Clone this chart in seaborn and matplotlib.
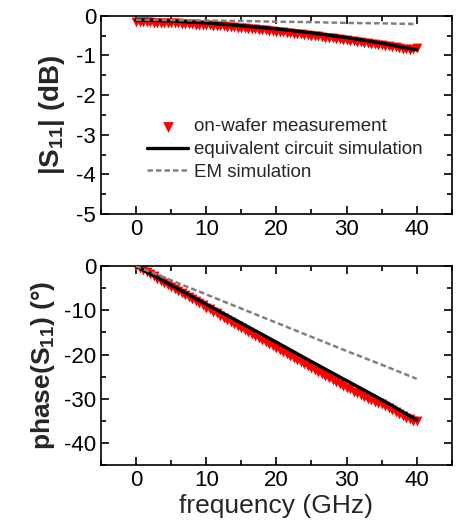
import matplotlib
matplotlib.use("Agg")
import matplotlib.pyplot as plt
from matplotlib.ticker import MultipleLocator
import numpy as np
import pandas as pd
import seaborn as sns

# measurement grid, 0.5 GHz steps
freq_meas = np.arange(0, 40.5, 0.5)
mag_meas = [
    -0.15, -0.15, -0.16, -0.16, -0.16, -0.17, -0.17, -0.17, -0.18, -0.18,
    -0.18, -0.19, -0.19, -0.20, -0.20, -0.21, -0.21, -0.22, -0.22, -0.23,
    -0.24, -0.24, -0.25, -0.26, -0.26, -0.27, -0.28, -0.29, -0.29, -0.30,
    -0.31, -0.32, -0.33, -0.33, -0.34, -0.35, -0.36, -0.37, -0.38, -0.39,
    -0.40, -0.41, -0.42, -0.43, -0.44, -0.45, -0.46, -0.47, -0.48, -0.49,
    -0.50, -0.51, -0.52, -0.53, -0.55, -0.56, -0.57, -0.58, -0.59, -0.60,
    -0.62, -0.63, -0.64, -0.65, -0.66, -0.68, -0.69, -0.70, -0.71, -0.73,
    -0.74, -0.75, -0.77, -0.78, -0.79, -0.81, -0.85, -0.84, -0.86, -0.83,
    -0.80,
]
phase_meas = [
    0.0, -0.4, -0.9, -1.4, -1.8, -2.3, -2.8, -3.3, -3.7, -4.2,
    -4.7, -5.1, -5.6, -6.1, -6.5, -7.0, -7.5, -7.9, -8.4, -8.9,
    -9.4, -9.8, -10.3, -10.7, -11.2, -11.7, -12.1, -12.6, -13.1, -13.5,
    -14.0, -14.5, -14.9, -15.4, -15.8, -16.3, -16.8, -17.2, -17.7, -18.1,
    -18.6, -19.0, -19.5, -19.9, -20.4, -20.8, -21.3, -21.7, -22.2, -22.6,
    -23.1, -23.5, -24.0, -24.4, -24.9, -25.3, -25.7, -26.2, -26.6, -27.1,
    -27.5, -27.9, -28.4, -28.8, -29.2, -29.6, -30.0, -30.4, -30.7, -30.9,
    -31.1, -31.6, -32.2, -32.6, -33.1, -33.5, -33.9, -34.3, -34.7, -35.0,
    -35.1,
]

# simulations, 5 GHz steps
freq_sim = [0, 5, 10, 15, 20, 25, 30, 35, 40]
mag_circuit = [-0.10, -0.13, -0.18, -0.25, -0.33, -0.43, -0.55, -0.69, -0.86]
mag_em = [-0.10, -0.11, -0.12, -0.13, -0.15, -0.16, -0.18, -0.19, -0.21]
phase_circuit = [0.0, -4.3, -8.6, -12.9, -17.2, -21.6, -25.9, -30.2, -34.8]
phase_em = [0.0, -3.2, -6.4, -9.6, -12.8, -16.0, -19.2, -22.3, -25.5]

meas = pd.DataFrame({"f": freq_meas, "mag": mag_meas, "phase": phase_meas})
sim = pd.DataFrame({"f": freq_sim, "mag_c": mag_circuit, "mag_em": mag_em,
                    "ph_c": phase_circuit, "ph_em": phase_em})

sns.set_theme(style="ticks")
plt.rcParams.update({
    "font.family": ["Liberation Sans", "DejaVu Sans"],
    "axes.unicode_minus": False,
    "xtick.direction": "in", "ytick.direction": "in",
    "xtick.top": True, "ytick.right": True,
    "xtick.major.size": 6, "ytick.major.size": 6,
    "xtick.minor.size": 3.5, "ytick.minor.size": 3.5,
    "xtick.major.width": 1.2, "ytick.major.width": 1.2,
    "xtick.minor.width": 1.2, "ytick.minor.width": 1.2,
    "axes.linewidth": 1.2, "axes.edgecolor": "black",
    "xtick.labelsize": 16, "ytick.labelsize": 16,
    "xtick.color": "black", "ytick.color": "black",
    "mathtext.fontset": "custom", "mathtext.rm": "Liberation Sans",
    "mathtext.bf": "Liberation Sans:bold",
})

fig = plt.figure(figsize=(4.61, 5.26), dpi=100)
ax1 = fig.add_axes([0.219, 0.593, 0.761, 0.377])
ax2 = fig.add_axes([0.219, 0.116, 0.761, 0.378])

RED = "#FF0000"
GREY = "#808080"

for ax, ycol, ccol, ecol in [(ax1, "mag", "mag_c", "mag_em"),
                             (ax2, "phase", "ph_c", "ph_em")]:
    sns.scatterplot(data=meas, x="f", y=ycol, ax=ax, marker="v", s=50,
                    color=RED, linewidth=0, label="on-wafer measurement", zorder=2)
    sns.lineplot(data=sim, x="f", y=ccol, ax=ax, color="black", linewidth=2.4,
                 label="equivalent circuit simulation", zorder=3)
    sns.lineplot(data=sim, x="f", y=ecol, ax=ax, color=GREY, linewidth=1.8,
                 dashes=(2.2, 1.2), label="EM simulation", zorder=3)
    ax.set_xlim(-5, 45)
    ax.xaxis.set_major_locator(MultipleLocator(10))
    ax.xaxis.set_minor_locator(MultipleLocator(5))
    ax.tick_params(which="both", top=True, right=True)

ax1.set_ylim(-5, 0)
ax1.yaxis.set_major_locator(MultipleLocator(1))
ax1.yaxis.set_minor_locator(MultipleLocator(0.5))
ax1.set_xlabel("")
ax1.set_ylabel(r"$\mathbf{|S_{11}|}$ (dB)", fontsize=20, fontweight="bold", labelpad=7)
ax1.legend(loc="upper left", bbox_to_anchor=(0.105, 0.53), frameon=False,
           fontsize=13.5, handlelength=2.2, handletextpad=0.3, borderpad=0,
           labelspacing=0.3, markerscale=1.1)

ax2.set_ylim(-45, 0)
ax2.yaxis.set_major_locator(MultipleLocator(10))
ax2.yaxis.set_minor_locator(MultipleLocator(5))
ax2.set_xlabel("frequency (GHz)", fontsize=19, labelpad=2)
ax2.set_ylabel(r"phase(S$_{\mathbf{11}}$) (°)", fontsize=19, fontweight="bold", labelpad=5)
ax2.get_legend().remove()

fig.savefig("out.png", dpi=100, facecolor="white")
